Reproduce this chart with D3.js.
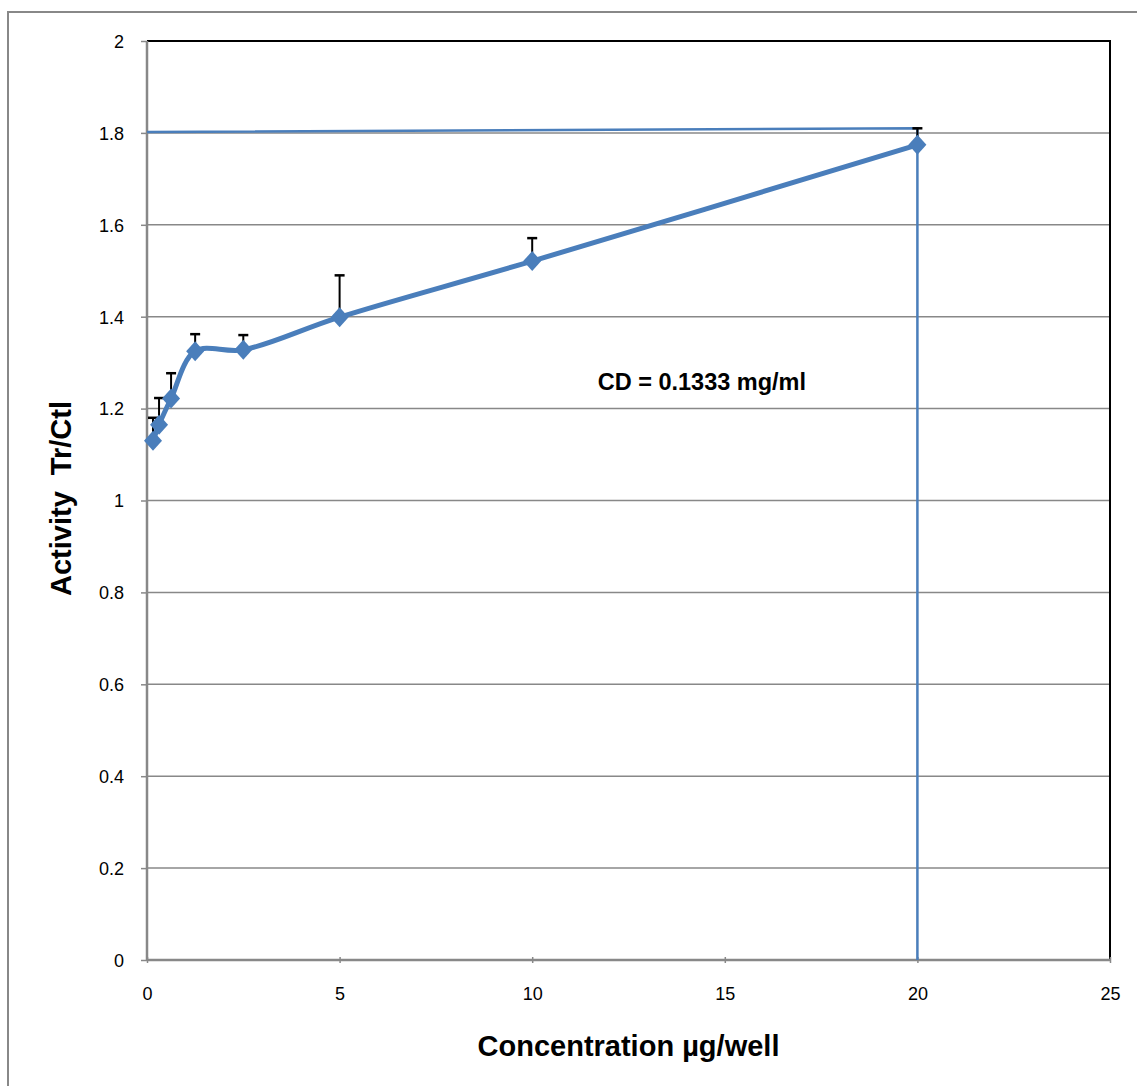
<!DOCTYPE html>
<html>
<head>
<meta charset="utf-8">
<script src="https://cdn.jsdelivr.net/npm/d3@7"></script>
<style>
  body { margin: 0; background: #fff; }
  svg { font-family: "Liberation Sans", Arial, sans-serif; }
</style>
</head>
<body>
<div id="container"></div>
<script>
/* DATA */
const concentrations = [0.15625, 0.3125, 0.625, 1.25, 2.5, 5, 10, 20];
const activity = [1.13, 1.165, 1.222, 1.325, 1.328, 1.399, 1.521, 1.774];
const errorTop = [1.18, 1.223, 1.277, 1.362, 1.36, 1.49, 1.571, 1.81];
// drop line series (horizontal to 20, then down to 0)
const cdLineX = [0, 20, 20];
const cdLineY = [1.802, 1.81, 0];
const xTicks = [0, 5, 10, 15, 20, 25];
const yTicks = [0, 0.2, 0.4, 0.6, 0.8, 1, 1.2, 1.4, 1.6, 1.8, 2];

/* CONSTANTS */
const width = 1137, height = 1086;
const margin = { top: 41, bottom: 126, left: 147, right: 27 };
const blue = "#4a7ebb";

const svg = d3.select("#container")
  .append("svg")
  .attr("width", width)
  .attr("height", height);

// outer chart border
svg.append("rect")
  .attr("x", 8).attr("y", 12)
  .attr("width", width + 20).attr("height", height + 20)
  .attr("fill", "none")
  .attr("stroke", "#888")
  .attr("stroke-width", 2);

const xScale = d3.scaleLinear()
  .domain([0, 25])
  .range([margin.left, width - margin.right]);

const yScale = d3.scaleLinear()
  .domain([0, 2])
  .range([height - margin.bottom, margin.top]);

// gridlines
svg.append("g")
  .selectAll("line")
  .data(yTicks.filter(d => d > 0 && d < 2))
  .join("line")
  .attr("x1", xScale(0)).attr("x2", xScale(25))
  .attr("y1", d => yScale(d)).attr("y2", d => yScale(d))
  .attr("stroke", "#888")
  .attr("stroke-width", 1.5);

// top and right frame
svg.append("path")
  .attr("d", `M${xScale(0)},${yScale(2)}H${xScale(25)}V${yScale(0)}`)
  .attr("fill", "none")
  .attr("stroke", "#000")
  .attr("stroke-width", 2);

// axes
const xAxis = d3.axisBottom(xScale).tickValues(xTicks).tickSize(6).tickPadding(21).tickFormat(d3.format("d"));
const xg = svg.append("g")
  .attr("transform", `translate(0,${yScale(0)})`)
  .call(xAxis);
xg.selectAll(".tick line").attr("stroke", "#888").attr("stroke-width", 1.5).attr("y1", -3).attr("y2", 3);

const yAxis = d3.axisLeft(yScale).tickValues(yTicks).tickSize(6).tickPadding(17).tickFormat(d => d);
const yg = svg.append("g")
  .attr("transform", `translate(${xScale(0)},0)`)
  .call(yAxis);
yg.selectAll(".tick line").attr("stroke", "#888").attr("stroke-width", 1.5);

[xg, yg].forEach(g => {
  g.select(".domain").attr("stroke", "#888").attr("stroke-width", 2.5);
  g.selectAll(".tick text")
    .attr("font-size", 18)
    .attr("fill", "#000")
    .attr("font-family", "Liberation Sans, Arial, sans-serif");
});
xg.select(".domain").attr("d", `M${xScale(0)},0H${xScale(25)}`);
yg.select(".domain").attr("d", `M0,${yScale(0)}V${yScale(2)}`);
yg.selectAll(".tick text").attr("dy", "0.35em");

// axis titles
svg.append("text")
  .attr("x", (xScale(0) + xScale(25)) / 2)
  .attr("y", 1056)
  .attr("text-anchor", "middle")
  .attr("font-weight", "bold")
  .attr("font-size", 29)
  .text("Concentration µg/well");

svg.append("text")
  .attr("transform", `translate(71,${(yScale(0) + yScale(2)) / 2 - 2}) rotate(-90)`)
  .attr("text-anchor", "middle")
  .attr("font-weight", "bold")
  .attr("font-size", 29)
  .attr("xml:space", "preserve")
  .text("Activity  Tr/Ctl");

const data = concentrations.map((c, i) => ({ x: c, y: activity[i], top: errorTop[i] }));
const cdData = cdLineX.map((x, i) => ({ x: x, y: cdLineY[i] }));

// CD drop line
svg.append("path")
  .datum(cdData)
  .attr("fill", "none")
  .attr("stroke", blue)
  .attr("stroke-width", 2.5)
  .attr("d", d3.line().x(d => xScale(d.x)).y(d => yScale(d.y)));

// error bars
const eb = svg.append("g").selectAll("g")
  .data(data)
  .join("g");
eb.append("line")
  .attr("x1", d => xScale(d.x)).attr("x2", d => xScale(d.x))
  .attr("y1", d => yScale(d.y)).attr("y2", d => yScale(d.top))
  .attr("stroke", "#000").attr("stroke-width", 2);
eb.append("line")
  .attr("x1", d => xScale(d.x) - 5).attr("x2", d => xScale(d.x) + 5)
  .attr("y1", d => yScale(d.top)).attr("y2", d => yScale(d.top))
  .attr("stroke", "#000").attr("stroke-width", 2.5);

// smoothed line
const lineGen = d3.line()
  .x(d => xScale(d.x))
  .y(d => yScale(d.y))
  .curve(d3.curveCatmullRom.alpha(0.5));

svg.append("path")
  .datum(data)
  .attr("fill", "none")
  .attr("stroke", blue)
  .attr("stroke-width", 5)
  .attr("d", lineGen);

// diamond markers
svg.selectAll(".marker")
  .data(data)
  .join("path")
  .attr("class", "marker")
  .attr("transform", d => `translate(${xScale(d.x)},${yScale(d.y)})`)
  .attr("d", "M0,-10L9,0L0,10L-9,0Z")
  .attr("fill", blue);

// annotation
svg.append("text")
  .attr("x", xScale(11.7))
  .attr("y", yScale(1.24))
  .attr("font-weight", "bold")
  .attr("font-size", 23.5)
  .text("CD = 0.1333 mg/ml");
</script>
</body>
</html>
